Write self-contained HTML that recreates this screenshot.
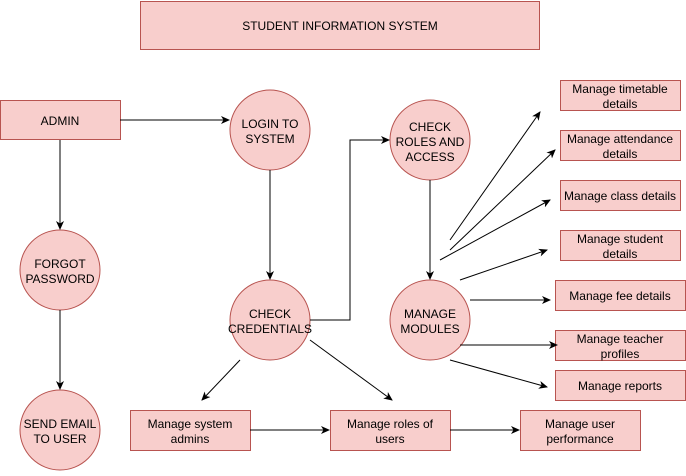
<!DOCTYPE html><html><head><style>body{margin:0;background:#fff}</style></head><body>
<svg width="686" height="471" xmlns="http://www.w3.org/2000/svg" font-family="Liberation Sans, Arial, sans-serif" font-size="12" text-anchor="middle">
<defs><marker id="a" markerWidth="10" markerHeight="10" refX="8" refY="5" orient="auto" markerUnits="userSpaceOnUse"><path d="M0,1 L9,5 L0,9 L2.5,5 z" fill="#000"/></marker></defs>
<g fill="#f8cecc" stroke="#b85450">
<rect x="140.5" y="1.5" width="399" height="48"/>
<rect x="0.5" y="100.5" width="120" height="39"/>
<circle cx="270" cy="130" r="40"/>
<circle cx="60" cy="270" r="40"/>
<circle cx="60" cy="430" r="40"/>
<circle cx="270" cy="320" r="40"/>
<circle cx="430" cy="140" r="40"/>
<circle cx="430" cy="320" r="40"/>
<rect x="560.5" y="80.5" width="120" height="30"/>
<rect x="560.5" y="130.5" width="120" height="30"/>
<rect x="560.5" y="180.5" width="120" height="30"/>
<rect x="560.5" y="230.5" width="120" height="30"/>
<rect x="555.5" y="280.5" width="130" height="30"/>
<rect x="555.5" y="330.5" width="130" height="30"/>
<rect x="555.5" y="370.5" width="130" height="30"/>
<rect x="130.5" y="410.5" width="120" height="40"/>
<rect x="330.5" y="410.5" width="120" height="40"/>
<rect x="520.5" y="410.5" width="120" height="40"/>
</g>
<g stroke="#000" fill="none" marker-end="url(#a)">
<path d="M120,120 H229"/>
<path d="M60,140 V229"/>
<path d="M60,310 V389"/>
<path d="M270,170 V279"/>
<path d="M310,320 H350 V140 H389"/>
<path d="M430,180 V279"/>
<path d="M240,360 L202,400"/>
<path d="M310,340 L392,400"/>
<path d="M250,430 H329"/>
<path d="M450,430 H519"/>
<path d="M450,240 L540,112"/>
<path d="M450,250 L555,150"/>
<path d="M440,260 L550,200"/>
<path d="M460,280 L547,250"/>
<path d="M470,300 L550,300"/>
<path d="M460,345 L557,345"/>
<path d="M450,360 L547,387"/>
</g>
<g fill="#000">
<text x="340" y="30">STUDENT INFORMATION SYSTEM</text>
<text x="60" y="125">ADMIN</text>
<text x="270" y="128">LOGIN TO</text><text x="270" y="143">SYSTEM</text>
<text x="60" y="268">FORGOT</text><text x="60" y="283">PASSWORD</text>
<text x="60" y="428">SEND EMAIL</text><text x="60" y="443">TO USER</text>
<text x="270" y="318">CHECK</text><text x="270" y="333">CREDENTIALS</text>
<text x="430" y="131">CHECK</text><text x="430" y="146">ROLES AND</text><text x="430" y="161">ACCESS</text>
<text x="430" y="318">MANAGE</text><text x="430" y="333">MODULES</text>
<text x="620" y="93">Manage timetable</text><text x="620" y="108">details</text>
<text x="620" y="143">Manage attendance</text><text x="620" y="158">details</text>
<text x="620" y="200">Manage class details</text>
<text x="620" y="243">Manage student</text><text x="620" y="258">details</text>
<text x="620" y="300">Manage fee details</text>
<text x="620" y="343">Manage teacher</text><text x="620" y="358">profiles</text>
<text x="620" y="390">Manage reports</text>
<text x="190" y="428">Manage system</text><text x="190" y="443">admins</text>
<text x="390" y="428">Manage roles of</text><text x="390" y="443">users</text>
<text x="580" y="428">Manage user</text><text x="580" y="443">performance</text>
</g>
</svg>
</body></html>
